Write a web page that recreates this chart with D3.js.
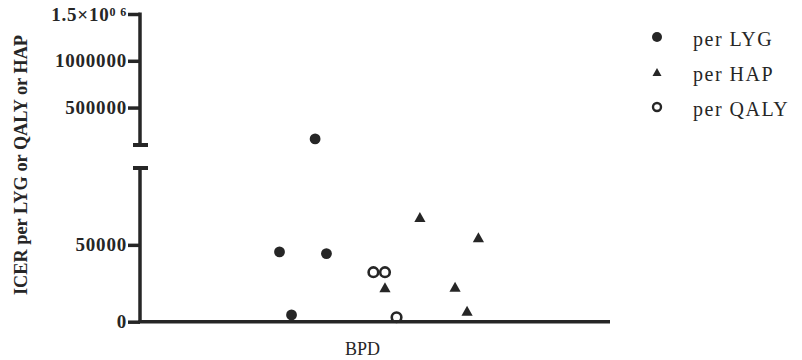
<!DOCTYPE html>
<html>
<head>
<meta charset="utf-8">
<script src="https://cdn.jsdelivr.net/npm/d3@7"></script>
<style>
  html, body { margin: 0; padding: 0; background: #fff; }
  svg { display: block; }
</style>
</head>
<body>
<svg id="chart" width="802" height="360"></svg>
<script>
// Category and series data (ICER values; jitter = horizontal offset within the column, -1..1)
const category = ["BPD"];

const lygValues = [45400, 4400, 165000, 44300];
const lygJitter = [-0.373, -0.319, -0.213, -0.162];

const qalyValues = [32200, 32200, 2900];
const qalyJitter = [0.049, 0.101, 0.153];

const hapValues = [22400, 68200, 22800, 7200, 55000];
const hapJitter = [0.101, 0.258, 0.416, 0.470, 0.521];

const lowerTicks = [0, 50000];
const upperTicks = [500000, 1000000, 1500000];
const legendLabels = ["per LYG", "per HAP", "per QALY"];
const yTitle = "ICER per LYG or QALY or HAP";

const ink = "#262626";
const serif = "'Liberation Serif', 'DejaVu Serif', serif";

const svg = d3.select("#chart");

// Scales: a broken y axis with a lower segment (0–100000) and an upper segment (100000–1.5e6)
const axisX = 140, axisRight = 610;
const yLower = d3.scaleLinear().domain([0, 100000]).range([321.7, 168]);
const yUpper = d3.scaleLinear().domain([100000, 1500000]).range([145, 14]);
const y = v => (v <= 100000 ? yLower(v) : yUpper(v));

const xCat = d3.scaleBand().domain(category).range([140, 585]);
const jitter = d3.scaleLinear().domain([-1, 1])
  .range([xCat("BPD"), xCat("BPD") + xCat.bandwidth()]);

// Axes
function styleAxis(g) {
  g.select(".domain").remove();
  g.selectAll(".tick line").attr("stroke", ink).attr("stroke-width", 3.5);
  g.selectAll(".tick text")
    .attr("fill", ink)
    .attr("font-family", serif)
    .attr("font-weight", "bold")
    .attr("font-size", 19)
    .attr("letter-spacing", 0.8);
}

const gLower = svg.append("g").attr("transform", `translate(${axisX},0)`)
  .call(d3.axisLeft(yLower).tickValues(lowerTicks).tickSize(12).tickPadding(1)
    .tickFormat(d3.format("d")));
styleAxis(gLower);

const gUpper = svg.append("g").attr("transform", `translate(${axisX},0)`)
  .call(d3.axisLeft(yUpper).tickValues(upperTicks).tickSize(12).tickPadding(1)
    .tickFormat(d => d === 1500000 ? "" : d3.format("d")(d)));
styleAxis(gUpper);

// Top label written as scientific notation with a superscript exponent
gUpper.selectAll(".tick text").filter(d => d === 1500000)
  .each(function () {
    const t = d3.select(this);
    t.text(null);
    t.append("tspan").text("1.5\u00d710");
    t.append("tspan").attr("dy", "-0.4em").attr("font-size", 12).text("0 6");
  });

// Axis lines, with end caps at the break
const lineG = svg.append("g").attr("stroke", ink).attr("stroke-width", 3.5).attr("fill", "none");
lineG.append("line").attr("x1", axisX).attr("x2", axisX)
  .attr("y1", yUpper(1500000) - 1.5).attr("y2", yUpper(100000));
lineG.append("line").attr("x1", axisX).attr("x2", axisX)
  .attr("y1", yLower(100000)).attr("y2", yLower(0));
[yUpper(100000), yLower(100000)].forEach(yy => {
  lineG.append("line").attr("x1", axisX - 7).attr("x2", axisX + 8)
    .attr("y1", yy).attr("y2", yy).attr("stroke-width", 4);
});
lineG.append("line").attr("x1", axisX - 1.5).attr("x2", axisRight)
  .attr("y1", yLower(0)).attr("y2", yLower(0));

// X axis category label
svg.append("text")
  .attr("x", xCat("BPD") + xCat.bandwidth() / 2).attr("y", 355)
  .attr("text-anchor", "middle")
  .attr("font-family", serif).attr("font-size", 18)
  .attr("fill", ink).text(category[0]);

// Y axis title
svg.append("text")
  .attr("transform", `translate(26.5,165) rotate(-90)`)
  .attr("text-anchor", "middle")
  .attr("font-family", serif).attr("font-weight", "bold").attr("font-size", 18.3)
  .attr("fill", ink).text(yTitle);

// Symbols
const triPath = s => `M0,${-s / 2}L${s * 0.56},${s / 2}L${-s * 0.56},${s / 2}Z`;

const marks = svg.append("g");
marks.selectAll("circle.lyg")
  .data(lygValues.map((v, i) => ({ v, j: lygJitter[i] })))
  .join("circle").attr("class", "lyg")
  .attr("cx", d => jitter(d.j)).attr("cy", d => y(d.v))
  .attr("r", 5.4).attr("fill", ink);

marks.selectAll("path.hap")
  .data(hapValues.map((v, i) => ({ v, j: hapJitter[i] })))
  .join("path").attr("class", "hap")
  .attr("transform", d => `translate(${jitter(d.j)},${y(d.v)})`)
  .attr("d", triPath(10)).attr("fill", ink);

marks.selectAll("circle.qaly")
  .data(qalyValues.map((v, i) => ({ v, j: qalyJitter[i] })))
  .join("circle").attr("class", "qaly")
  .attr("cx", d => jitter(d.j)).attr("cy", d => y(d.v))
  .attr("r", 4.8).attr("fill", "none").attr("stroke", ink).attr("stroke-width", 2.6);

// Legend
const legend = svg.append("g").attr("transform", "translate(657,37)");
const rowGap = 35;
legendLabels.forEach((lab, i) => {
  const g = legend.append("g").attr("transform", `translate(0,${i * rowGap})`);
  if (i === 0) g.append("circle").attr("r", 5).attr("fill", ink);
  if (i === 1) g.append("path").attr("d", triPath(8)).attr("fill", ink);
  if (i === 2) g.append("circle").attr("r", 4).attr("fill", "none")
    .attr("stroke", ink).attr("stroke-width", 2.4);
  g.append("text").attr("x", 36).attr("y", 9.3)
    .attr("font-family", serif).attr("font-size", 20)
    .attr("letter-spacing", 1.5)
    .attr("fill", ink).text(lab);
});
</script>
</body>
</html>
